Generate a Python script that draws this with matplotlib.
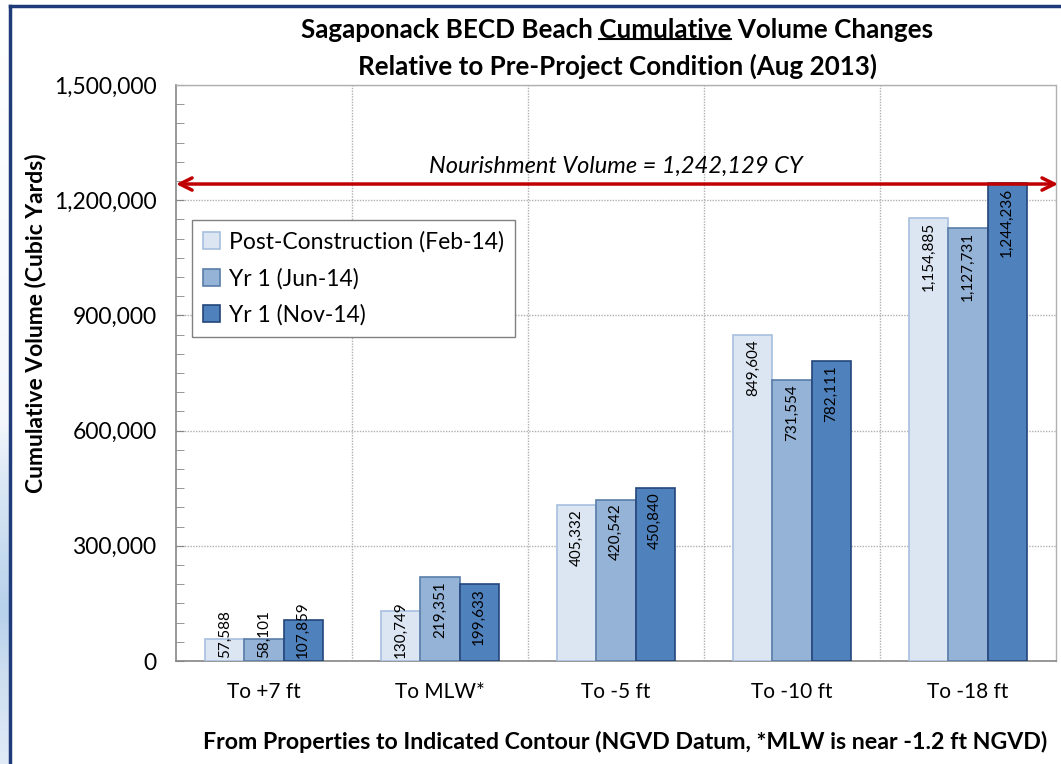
import matplotlib
matplotlib.use("Agg")
import matplotlib.pyplot as plt
import numpy as np
from matplotlib.lines import Line2D
from matplotlib.ticker import MultipleLocator, FuncFormatter

plt.rcParams['font.family'] = ['Lato', 'DejaVu Sans']

categories = ["To +7 ft", "To MLW*", "To -5 ft", "To -10 ft", "To -18 ft"]
series_names = ["Post-Construction (Feb-14)", "Yr 1 (Jun-14)", "Yr 1 (Nov-14)"]
post_construction = [57588, 130749, 405332, 849604, 1154885]
yr1_jun = [58101, 219351, 420542, 731554, 1127731]
yr1_nov = [107859, 199633, 450840, 782111, 1244236]
nourishment_volume = 1242129

face_colors = ['#DCE6F2', '#95B3D7', '#4F81BD']
edge_colors = ['#A7BFDE', '#5A7DAA', '#24457A']

W, H = 1061, 764
fig = plt.figure(figsize=(W / 100, H / 100), dpi=100)
fig.patch.set_facecolor('white')

# slide background strip on the left
bg = fig.add_axes([0, 0, 9 / W, 1])
grad = np.ones((H, 1, 3))
stops_y = [0, 0.55, 0.63, 0.80, 0.88, 1.0]
stops_c = [(1, 1, 1), (0.96, 0.97, 0.99), (0.86, 0.91, 0.96), (0.72, 0.82, 0.92),
           (0.80, 0.87, 0.94), (0.88, 0.92, 0.97)]
yy = np.linspace(0, 1, H)
for k in range(3):
    grad[:, 0, k] = np.interp(yy, stops_y, [c[k] for c in stops_c])
bg.imshow(grad, aspect='auto', extent=[0, 1, 1, 0])
bg.set_axis_off()

ax = fig.add_axes([176 / W, 1 - 661 / H, 880 / W, 576 / H])

x = np.arange(len(categories))
bw = 1 / 4.5
all_series = [post_construction, yr1_jun, yr1_nov]
for i, vals in enumerate(all_series):
    xs = x + (i - 1) * bw
    ax.bar(xs, vals, width=bw, color=face_colors[i], edgecolor=edge_colors[i],
           linewidth=1.2, label=series_names[i], zorder=3)
    for xv, v in zip(xs, vals):
        if v < 135000:
            ax.annotate(f"{v:,}", xy=(xv, 0), xytext=(0, 2), textcoords='offset points',
                        rotation=90, ha='center', va='bottom', fontsize=11, zorder=4)
        else:
            ax.annotate(f"{v:,}", xy=(xv, v), xytext=(0, -3), textcoords='offset points',
                        rotation=90, ha='center', va='top', fontsize=11, zorder=4)

ax.set_xlim(-0.5, len(categories) - 0.5)
ax.set_ylim(0, 1500000)
ax.yaxis.set_major_locator(MultipleLocator(300000))
ax.yaxis.set_minor_locator(MultipleLocator(50000))
ax.yaxis.set_major_formatter(FuncFormatter(lambda v, p: f"{int(v):,}"))
ax.set_xticks(x)
ax.set_xticklabels(categories)
ax.set_xticks(np.arange(0.5, len(categories) - 1, 1), minor=True)

grid_kw = dict(color='#B0B0B0', linestyle=(0, (1, 1)), linewidth=1.0)
ax.grid(True, axis='y', which='major', zorder=0, **grid_kw)
ax.grid(True, axis='x', which='minor', zorder=0, **grid_kw)
ax.set_axisbelow(True)

ax.tick_params(axis='y', which='both', direction='in', length=6, color='#868686',
               labelsize=16.5, pad=14)
ax.tick_params(axis='x', which='major', direction='in', length=6, color='#868686',
               labelsize=15, pad=15)
ax.tick_params(axis='x', which='minor', length=0)

for s in ['left', 'bottom']:
    ax.spines[s].set_color('#868686')
    ax.spines[s].set_linewidth(1.2)
for s in ['top', 'right']:
    ax.spines[s].set_color('#B0B0B0')
    ax.spines[s].set_linestyle((0, (1, 1)))
    ax.spines[s].set_linewidth(1.0)

# nourishment arrow
ax.annotate('', xy=(len(categories) - 0.5 + 0.012, nourishment_volume),
            xytext=(-0.5, nourishment_volume),
            arrowprops=dict(arrowstyle='<->', color='#C00000', lw=2.5,
                            mutation_scale=22, shrinkA=0, shrinkB=0),
            annotation_clip=False, zorder=5)
ax.text(2.0, 1287000, f"Nourishment Volume = {nourishment_volume:,} CY",
        ha='center', va='center', fontsize=17, style='italic', zorder=5)

leg = ax.legend(loc='upper left', bbox_to_anchor=(0.018, 0.766), borderaxespad=0,
                fancybox=False, framealpha=1, edgecolor='#808080', fontsize=16.5,
                handlelength=0.75, handleheight=0.75, handletextpad=0.35,
                labelspacing=0.65, borderpad=0.5)
leg.get_frame().set_linewidth(1.0)

fig.text(36 / W, 1 - 323 / H, "Cumulative Volume (Cubic Yards)", rotation=90,
         ha='center', va='center', fontsize=16.5, fontweight='bold')
fig.text(625 / W, 1 - 742 / H,
         "From Properties to Indicated Contour (NGVD Datum, *MLW is near -1.2 ft NGVD)",
         ha='center', va='center', fontsize=16.7, fontweight='bold')

line1 = "Sagaponack BECD Beach Cumulative Volume Changes"
t1 = fig.text(617 / W, 1 - 30 / H, line1, ha='center', va='center',
              fontsize=18.7, fontweight='bold')
fig.text(617 / W, 1 - 66 / H, "Relative to Pre-Project Condition (Aug 2013)",
         ha='center', va='center', fontsize=18.7, fontweight='bold')

# underline "Cumulative"
fig.canvas.draw()
r = fig.canvas.get_renderer()
bb = t1.get_window_extent(r)
tmp = fig.text(0, 0, "Sagaponack BECD Beach Cumulative", fontsize=18.7, fontweight='bold')
w_pre = tmp.get_window_extent(r).width
tmp.set_text("Cumulative")
w_cum = tmp.get_window_extent(r).width
tmp.remove()
x_end = bb.x0 + w_pre
x_start = x_end - w_cum
y_ul = bb.y0 + 3
fig.add_artist(Line2D([x_start / W, x_end / W], [y_ul / H, y_ul / H], color='black', lw=1.5))

# outer frame of the chart
navy = '#1F3A78'
fig.add_artist(Line2D([9.5 / W, 9.5 / W], [0, 1 - 6 / H], color=navy, lw=2.5))
fig.add_artist(Line2D([9.5 / W, 1], [1 - 6 / H, 1 - 6 / H], color=navy, lw=2.5))

fig.savefig("out.png", dpi=100)
